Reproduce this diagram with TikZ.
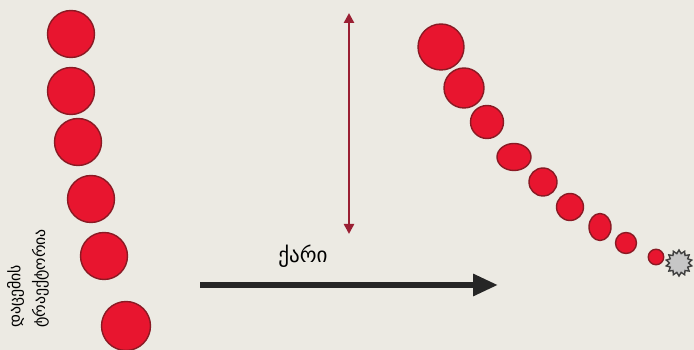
\documentclass[tikz,border=0pt]{standalone}
\usepackage{fontspec}
\newfontfamily\geofont{DejaVu Sans}
\usepackage{xcolor}
\usetikzlibrary{shapes.geometric, arrows.meta}

\definecolor{paper}{HTML}{ECEAE3}
\definecolor{dropfill}{HTML}{E8152F}
\definecolor{dropline}{HTML}{8A1A24}
\definecolor{gust}{HTML}{9A1F33}

\begin{document}
\begin{tikzpicture}[
  x=0.02cm, y=-0.02cm,
  drop/.style={circle, draw=dropline, line width=0.8pt, fill=dropfill,
               inner sep=0pt, minimum size=#1},
  oval/.style={ellipse, draw=dropline, line width=0.8pt, fill=dropfill,
               inner sep=0pt},
  burst/.style={star, star points=14, star point ratio=1.35, draw=black!75,
                line width=0.8pt, fill=gray!45, inner sep=0pt, minimum size=0.52cm},
  wind/.style={-{Triangle[length=0.5cm, width=0.42cm]}, line width=3.4pt, black!85},
  fall/.style={{Triangle[length=0.2cm, width=0.2cm]}-{Triangle[length=0.2cm, width=0.2cm]},
               line width=1.4pt, gust}
]
\fill[paper] (0,0) rectangle (694,350);
\useasboundingbox (0,0) rectangle (694,350);

% still air
\node[drop=0.94cm] (l1) at (71,34)  {};
\node[drop=0.94cm] (l2) at (71,91)  {};
\node[drop=0.94cm] (l3) at (78,142) {};
\node[drop=0.94cm] (l4) at (91,199) {};
\node[drop=0.94cm] (l5) at (104,256) {};
\node[drop=0.98cm] (l6) at (126,326) {};

\node[rotate=90, anchor=west, align=left, font=\geofont\fontsize{9}{14}\selectfont]
  (path) at (28,334) {დაცემის\\ტრაექტორია};

% drift
\node[drop=0.92cm] (r1) at (441,47)  {};
\node[drop=0.80cm] (r2) at (464,88)  {};
\node[drop=0.66cm] (r3) at (487,122) {};
\node[oval, minimum width=0.68cm, minimum height=0.54cm] (r4) at (514,157) {};
\node[drop=0.56cm] (r5) at (543,182) {};
\node[drop=0.54cm] (r6) at (570,207) {};
\node[oval, minimum width=0.44cm, minimum height=0.54cm] (r7) at (600,227) {};
\node[drop=0.42cm] (r8) at (626,243) {};
\node[drop=0.31cm] (r9) at (656,257) {};
\node[burst] (hit) at (679,263) {};

\coordinate (top) at (349,13);
\coordinate (bot) at (349,234);
\draw[fall] (top) -- (bot);

\coordinate (wl) at (200,285);
\coordinate (wr) at (498,285);
\draw[wind] (wl) -- (wr);
\node[font=\geofont\fontsize{12}{14}\selectfont] (wtxt) at (303,256) {ქარი};
\end{tikzpicture}
\end{document}
